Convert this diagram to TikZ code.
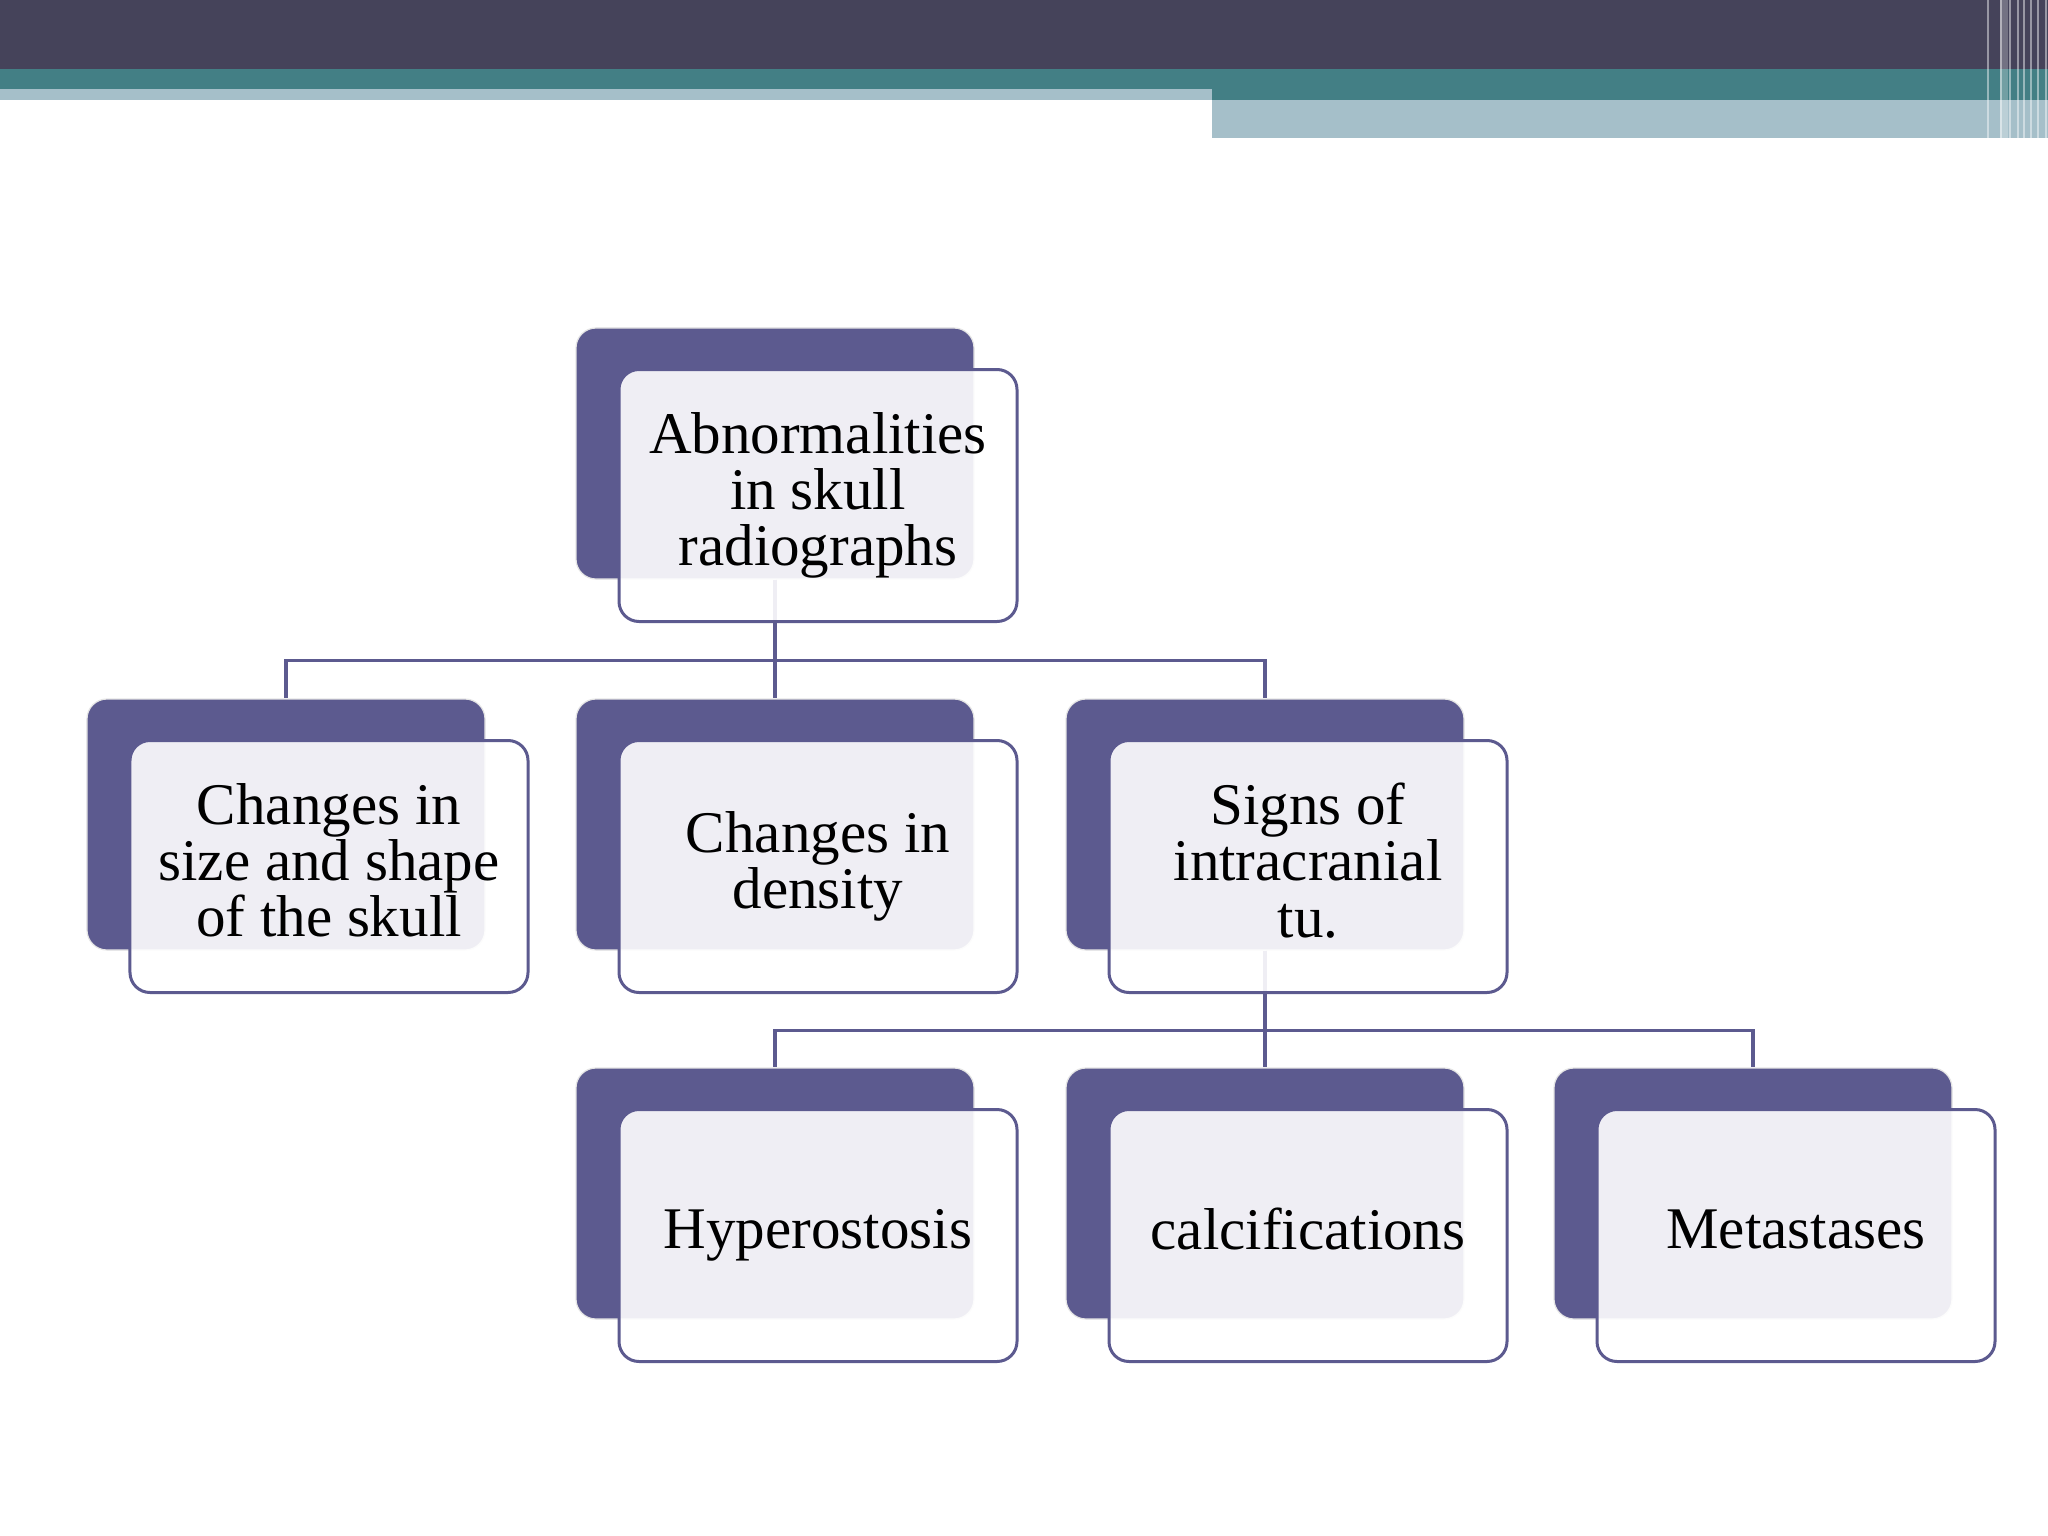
\documentclass[tikz,border=0pt]{standalone}
\usepackage{fontspec}
\setmainfont{Liberation Serif}
\definecolor{barDark}{HTML}{45435A}
\definecolor{barTeal}{HTML}{437F85}
\definecolor{barLight}{HTML}{A5BFC9}
\definecolor{boxPurple}{HTML}{5C5A8F}
\newcommand{\ls}{\rule[-9pt]{0pt}{36pt}}
\tikzset{
 backbox/.style={draw=black!10, line width=0.3mm, fill=boxPurple, rounded corners=5mm, minimum width=99.5mm, minimum height=62.75mm, inner sep=0pt},
 frontbox/.style={draw=boxPurple, line width=0.75mm, fill=white, fill opacity=0.9, text opacity=1, rounded corners=5mm, minimum width=99.5mm, minimum height=63mm, inner sep=0pt, align=center, font=\fontsize{42}{40}\selectfont},
 conn/.style={draw=boxPurple, line width=0.8mm},
 stripe/.style={draw=white, draw opacity=0.45},
}
\begin{document}
\begin{tikzpicture}[x=0.25mm,y=-0.25mm]
\useasboundingbox (0,0) rectangle (2048,1536);
\fill[white] (0,0) rectangle (2048,1536);
% header bars
\fill[barDark] (0,0) rectangle (2048,69);
\fill[barTeal] (0,69) rectangle (2048,89);
\fill[barLight] (0,89) rectangle (1212,100);
\fill[barTeal] (1212,89) rectangle (2048,100);
\fill[barLight] (1212,100) rectangle (2048,138);
\fill[white, opacity=0.25] (2000,0) rectangle (2008,138);
\foreach \xx/\ww in {1988/0.3, 2001/0.4, 2010/0.5, 2018/0.3, 2024/0.6, 2031/0.3, 2038/0.5, 2046/0.4}
  \draw[stripe, line width=\ww mm] (\xx,0) -- (\xx,138);
% back boxes
\node[backbox] (b0) at (775,453.5) {};
\node[backbox] (b1) at (286,824.5) {};
\node[backbox] (b2) at (775,824.5) {};
\node[backbox] (b3) at (1265,824.5) {};
\node[backbox] (b4) at (775,1193.5) {};
\node[backbox] (b5) at (1265,1193.5) {};
\node[backbox] (b6) at (1753,1193.5) {};
% connectors
\draw[conn] (b0.south) -- ++(0,81) -| (b1.north);
\draw[conn] (b0.south) -- ++(0,81) -| (b2.north);
\draw[conn] (b0.south) -- ++(0,81) -| (b3.north);
\draw[conn] (b3.south) -- ++(0,80) -| (b4.north);
\draw[conn] (b3.south) -- ++(0,80) -| (b5.north);
\draw[conn] (b3.south) -- ++(0,80) -| (b6.north);
% front boxes
\node[frontbox] (f0) at (818,495.5) {\ls Abnormalities\\\ls in skull\\\ls radiographs};
\node[frontbox] (f1) at (329,866.5) {\ls Changes in\\\ls size and shape\\\ls of the skull};
\node[frontbox] (f2) at (818,866.5) {\ls Changes in\\\ls density};
\node[frontbox] (f3) at (1308,866.5) {\ls Signs of\\\ls intracranial\\\ls tu.};
\node[frontbox] (f4) at (818,1235.5) {\ls Hyperostosis};
\node[frontbox] (f5) at (1308,1235.5) {\ls calcifications};
\node[frontbox] (f6) at (1796,1235.5) {\ls Metastases};
\end{tikzpicture}
\end{document}
